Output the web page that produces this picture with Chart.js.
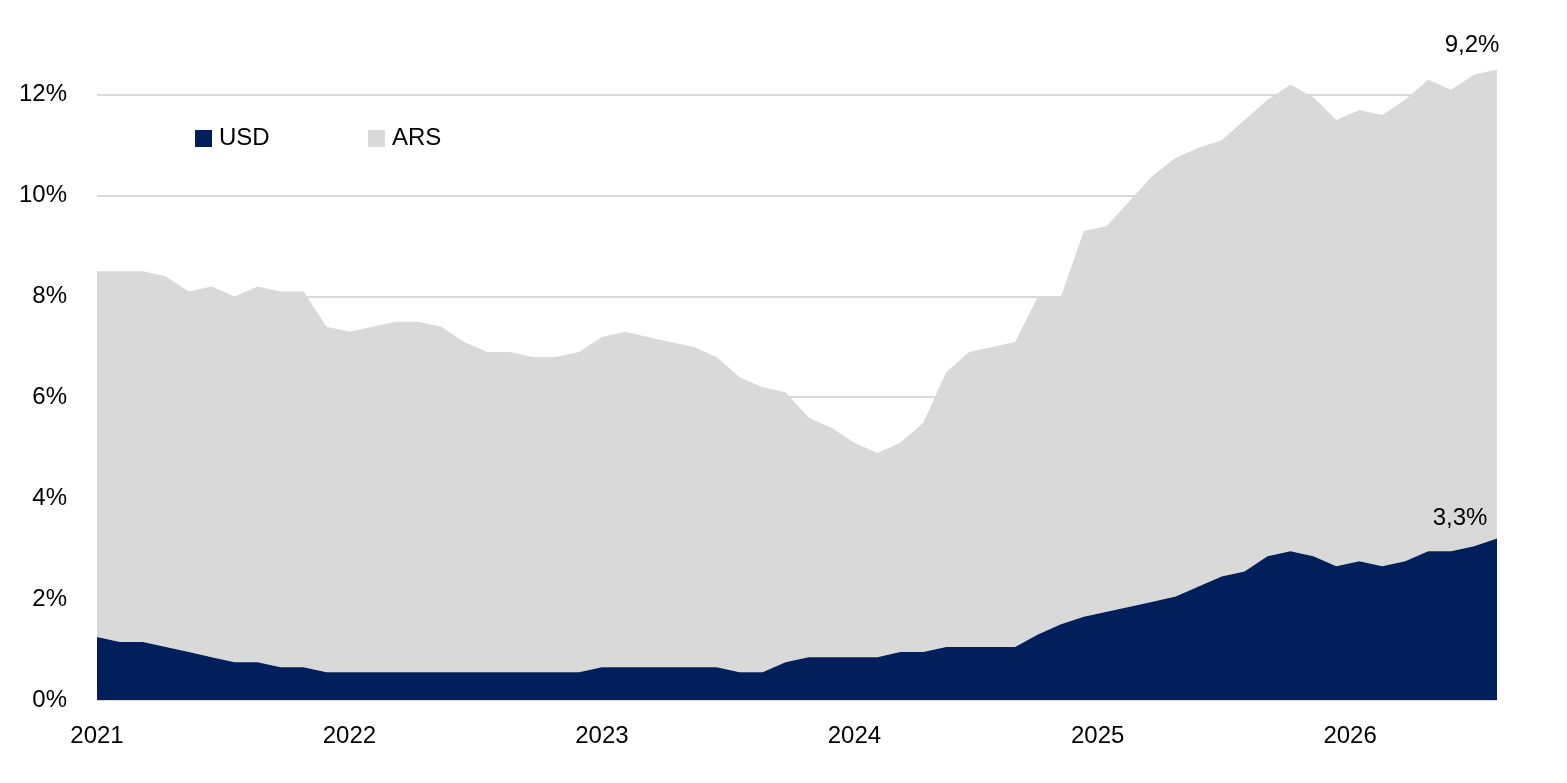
<!DOCTYPE html>
<html>
<head>
<meta charset="utf-8">
<script src="https://cdn.jsdelivr.net/npm/chart.js@4/dist/chart.umd.min.js"></script>
<style>
  html, body { margin: 0; padding: 0; background: #fff; }
  #wrap { width: 1567px; height: 783px; }
</style>
</head>
<body>
<div id="wrap"><canvas id="c"></canvas></div>
<script>
// Stacked shares (%), one point per period
const usd = [1.25,1.15,1.15,1.05,0.95,0.85,0.75,0.75,0.65,0.65,0.55,
  0.55,0.55,0.55,0.55,0.55,0.55,0.55,0.55,0.55,0.55,0.55,
  0.65,0.65,0.65,0.65,0.65,0.65,0.55,0.55,
  0.75,0.85,0.85,0.85,0.85,0.95,0.95,1.05,1.05,1.05,1.05,
  1.3,1.5,1.65,1.75,1.85,1.95,2.05,2.25,2.45,2.55,2.85,2.95,2.85,2.65,2.75,2.65,2.75,2.95,2.95,3.05,3.2];
const total = [8.5,8.5,8.5,8.4,8.1,8.2,8.0,8.2,8.1,8.1,7.4,
  7.3,7.4,7.5,7.5,7.4,7.1,6.9,6.9,6.8,6.8,6.9,
  7.2,7.3,7.2,7.1,7.0,6.8,6.4,6.2,
  6.1,5.6,5.4,5.1,4.9,5.1,5.5,6.5,6.9,7.0,7.1,
  8.0,8.0,9.3,9.4,9.9,10.4,10.75,10.95,11.1,11.5,11.9,12.2,11.95,11.5,11.7,11.6,11.9,12.3,12.1,12.4,12.5];
const ars = total.map((t, i) => +(t - usd[i]).toFixed(2));
const yearTicks = [0, 11, 22, 33, 43.6, 54.6];
const yearLabels = ['2021', '2022', '2023', '2024', '2025', '2026'];
const endLabels = ['3,3%', '9,2%'];

const NAVY = '#001f5b';
const GREY = '#d9d9d9';
const FONT = '"Liberation Sans", Arial, sans-serif';

const extras = {
  id: 'extras',
  afterDatasetsDraw(chart) {
    const { ctx, scales: { x, y } } = chart;
    const last = usd.length - 1;
    ctx.save();
    ctx.font = '24px ' + FONT;
    ctx.fillStyle = '#000';
    ctx.textAlign = 'center';
    ctx.textBaseline = 'bottom';
    ctx.fillText(endLabels[0], x.getPixelForValue(last) - 37, y.getPixelForValue(usd[last]) - 8);
    ctx.fillText(endLabels[1], x.getPixelForValue(last) - 25, y.getPixelForValue(total[last]) - 12);
    // legend
    ctx.textAlign = 'left';
    ctx.textBaseline = 'middle';
    const ly = 138;
    ctx.fillStyle = NAVY; ctx.fillRect(195, ly - 8, 17, 17);
    ctx.fillStyle = '#000'; ctx.fillText('USD', 219, ly);
    ctx.fillStyle = GREY; ctx.fillRect(368, ly - 8, 17, 17);
    ctx.fillStyle = '#000'; ctx.fillText('ARS', 392, ly);
    ctx.restore();
  }
};

new Chart(document.getElementById('c'), {
  type: 'line',
  data: {
    datasets: [
      { label: 'USD', data: usd.map((v, i) => ({ x: i, y: v })), backgroundColor: NAVY, borderWidth: 0, fill: 'origin', pointRadius: 0, tension: 0 },
      { label: 'ARS', data: ars.map((v, i) => ({ x: i, y: v })), backgroundColor: GREY, borderWidth: 0, fill: '-1', pointRadius: 0, tension: 0 }
    ]
  },
  options: {
    responsive: true,
    maintainAspectRatio: false,
    animation: false,
    layout: { padding: { top: 39, right: 70, left: 0, bottom: 0 } },
    plugins: { legend: { display: false }, tooltip: { enabled: false } },
    scales: {
      x: {
        type: 'linear', min: 0, max: usd.length - 1,
        afterBuildTicks(s) { s.ticks = yearTicks.map(v => ({ value: v })); },
        afterFit(s) { s.height = 83; },
        ticks: {
          callback: (v) => yearLabels[yearTicks.indexOf(v)] || '',
          color: '#000', font: { family: FONT, size: 24 }, maxRotation: 0, padding: 14
        },
        grid: { display: false },
        border: { display: false }
      },
      y: {
        stacked: true, min: 0, max: 13,
        afterBuildTicks(s) { s.ticks = [0, 2, 4, 6, 8, 10, 12].map(v => ({ value: v })); },
        afterFit(s) { s.width = 97; },
        ticks: { callback: v => v + '%', color: '#000', font: { family: FONT, size: 24 }, padding: 30 },
        grid: { color: '#d9d9d9', lineWidth: 2, drawTicks: false },
        border: { display: false }
      }
    }
  },
  plugins: [extras]
});
</script>
</body>
</html>
